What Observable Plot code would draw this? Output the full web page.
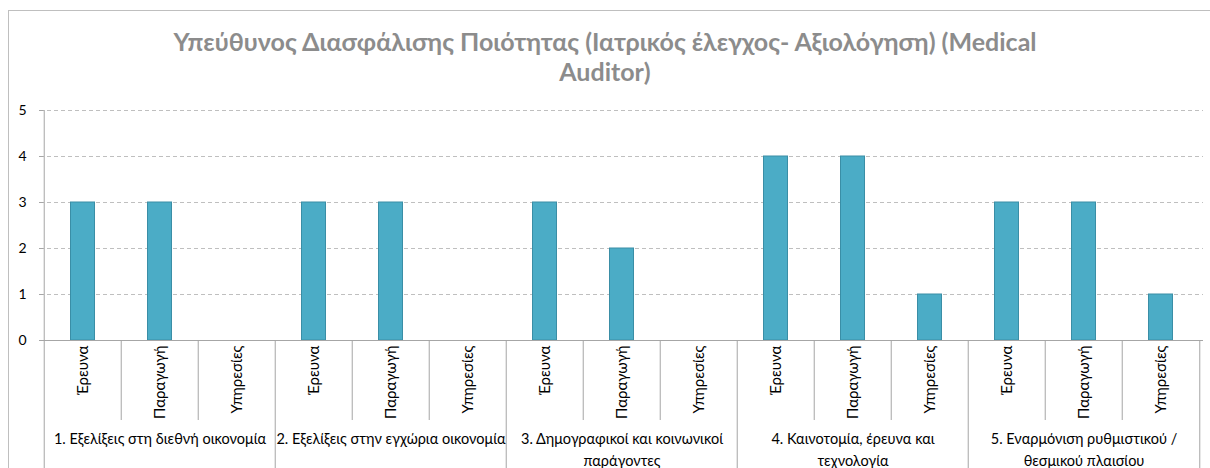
<!DOCTYPE html>
<html><head><meta charset="utf-8">
<script src="https://cdn.jsdelivr.net/npm/d3@7"></script>
<script src="https://cdn.jsdelivr.net/npm/@observablehq/plot@0.6"></script>
<style>
body{margin:0;background:#fff;font-family:Lato,"Open Sans",sans-serif;}
#wrap{position:relative;width:1210px;height:468px;overflow:hidden;}
#frame{position:absolute;left:8px;top:10px;width:1210px;height:470px;border:1px solid #bfbfbf;box-sizing:border-box;}
#title{position:absolute;left:0;top:26px;width:1210px;text-align:center;font-family:Lato,sans-serif;font-weight:bold;font-size:25px;line-height:30px;color:#8c8c8c;}
#chart{position:absolute;left:0;top:0;}
</style></head>
<body>
<div id="wrap"><div id="frame"></div>
<div id="title">Υπεύθυνος Διασφάλισης Ποιότητας (Ιατρικός έλεγχος- Αξιολόγηση) (Medical<br>Auditor)</div>
<div id="chart"></div></div>
<script>
const groups = [
  "1. Εξελίξεις στη διεθνή οικονομία",
  "2. Εξελίξεις στην εγχώρια οικονομία",
  "3. Δημογραφικοί και κοινωνικοί\nπαράγοντες",
  "4. Καινοτομία, έρευνα και\nτεχνολογία",
  "5. Εναρμόνιση ρυθμιστικού /\nθεσμικού πλαισίου"
];
const subs = ["Έρευνα", "Παραγωγή", "Υπηρεσίες"];
const values = [
  [3, 3, 0],
  [3, 3, 0],
  [3, 2, 0],
  [4, 4, 1],
  [3, 3, 1]
];
const yTicks = [0, 1, 2, 3, 4, 5];

const rows = [];
groups.forEach((g, gi) => subs.forEach((s, si) => rows.push({key: gi + "|" + si, group: g, sub: s, gi, si, value: values[gi][si]})));
const keys = rows.map(d => d.key);

const W = 1210, H = 468, ML = 40, MR = 7;
const bw = (W - ML - MR) / keys.length;
const grey = "#a6a6a6";
const fontFam = "Lato, 'Open Sans', sans-serif";
const firstKey = () => keys[0];

const chart = Plot.plot({
  width: W, height: H,
  marginLeft: ML, marginRight: MR, marginTop: 110, marginBottom: 0,
  style: {fontFamily: fontFam, fontSize: "13px", color: "#000", background: "transparent"},
  x: {type: "band", domain: keys, padding: 0, axis: null},
  y: {domain: [0, 5], range: [340, 110], axis: null},
  marks: [
    Plot.gridY(yTicks.filter(d => d > 0), {stroke: "#bfbfbf", strokeOpacity: 1, strokeDasharray: "4,3"}),
    Plot.barY(rows.filter(d => d.value > 0), {x: "key", y: "value", fill: "#4bacc6", stroke: "#3a8ea6", strokeWidth: 1, insetLeft: 26.5, insetRight: 26.5}),
    Plot.ruleY([0], {stroke: grey}),
    // y axis line (full height)
    Plot.ruleX(rows.filter(d => d.gi === 0 && d.si === 0), {x: "key", dx: -bw / 2, stroke: grey}),
    // group separators
    Plot.ruleX(rows.filter(d => d.gi > 0 && d.si === 0), {x: "key", dx: -bw / 2, stroke: grey, insetTop: 230}),
    Plot.ruleX(rows.filter(d => d.gi === groups.length - 1 && d.si === subs.length - 1), {x: "key", dx: bw / 2, stroke: grey, insetTop: 230}),
    // sub separators
    Plot.ruleX(rows.filter(d => d.si > 0), {x: "key", dx: -bw / 2, stroke: grey, insetTop: 230, insetBottom: 48}),
    // y axis ticks
    Plot.tickY(yTicks, {y: d => d, x: firstKey, dx: -5, insetLeft: 0, insetRight: bw - 5, stroke: grey}),
    Plot.text(yTicks, {y: d => d, frameAnchor: "left", dx: -14, text: d => String(d), textAnchor: "end", fontSize: 14, fill: "#000"}),
    // sub labels
    Plot.text(rows, {x: "key", y: 0, text: "sub", rotate: -90, textAnchor: "end", dy: 5, fontSize: 15, fill: "#000"}),
    // group labels
    Plot.text(rows.filter(d => d.si === 1), {x: "key", y: 0, text: "group", lineAnchor: "top", dy: 88, lineHeight: 1.5, fontSize: 14.5, fill: "#000"})
  ]
});
document.getElementById("chart").appendChild(chart);
</script>
</body></html>
